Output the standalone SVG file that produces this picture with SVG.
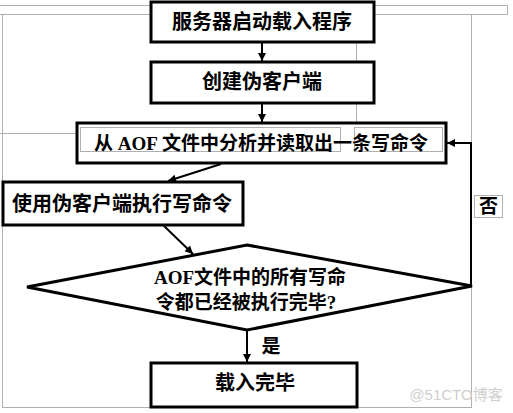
<svg xmlns="http://www.w3.org/2000/svg" width="513" height="413" viewBox="0 0 513 413">
<defs>
<style>
.box{fill:#fff;stroke:#000;stroke-width:3}
.t{font-family:"Liberation Serif","Noto Sans CJK SC",serif;font-weight:bold;fill:#000;text-anchor:middle}
.ln{fill:none;stroke:#000;stroke-width:2}
.g{fill:none;stroke:#b0b0b0;stroke-width:1}
</style>
<marker id="ah" viewBox="0 0 10 10" refX="10" refY="5" markerWidth="9" markerHeight="8" markerUnits="userSpaceOnUse" orient="auto">
<path d="M0,0 L10,5 L0,10 z" fill="#000"/>
</marker>
</defs>
<rect width="513" height="413" fill="#fff"/>
<g id="artifacts">
<rect class="g" x="2.5" y="14.5" width="469" height="393"/>
<path class="g" d="M0,5.5 H507.5 V14.5 H0"/>
<path class="g" d="M356.5,5.5 V130"/>
<path class="g" d="M0,133.5 H80"/>
</g>
<g id="n1"><rect class="box" x="151" y="2" width="223" height="40"/><text class="t" x="262" y="29" font-size="20">服务器启动载入程序</text></g>
<g id="n2"><rect class="box" x="151" y="62" width="223" height="41"/><text class="t" x="262" y="89" font-size="20">创建伪客户端</text></g>
<g id="n3"><rect class="box" x="77" y="123" width="369" height="40"/>
<rect class="g" x="80.5" y="127.5" width="260" height="24"/><rect class="g" x="354.5" y="127.5" width="88" height="24"/>
<text class="t" x="261" y="150" font-size="19">从 AOF 文件中分析并读取出一条写命令</text></g>
<g id="n4"><rect class="box" x="3" y="182" width="240" height="43"/><text class="t" x="122" y="211" font-size="20">使用伪客户端执行写命令</text></g>
<g id="n5"><polygon class="box" points="247,245 472,286 247,330 27,287"/>
<text class="t" x="250" y="284" font-size="19">AOF文件中的所有写命</text>
<text class="t" x="246" y="309" font-size="19">令都已经被执行完毕?</text></g>
<g id="n6"><rect class="box" x="151" y="363" width="206" height="44"/><text class="t" x="255" y="390" font-size="20">载入完毕</text></g>
<g id="connectors">
<line class="ln" x1="262" y1="42" x2="262" y2="61" marker-end="url(#ah)"/>
<line class="ln" x1="262" y1="103" x2="262" y2="122" marker-end="url(#ah)"/>
<line class="ln" x1="221" y1="164" x2="168" y2="181" marker-end="url(#ah)"/>
<line class="ln" x1="163" y1="225" x2="193" y2="254" marker-end="url(#ah)"/>
<line class="ln" x1="247" y1="330" x2="247" y2="362" marker-end="url(#ah)"/>
<polyline class="ln" points="471,286 471,143 447,143" marker-end="url(#ah)"/>
<text class="t" x="271" y="353" font-size="19">是</text>
<rect x="474.5" y="195.5" width="28" height="22" fill="#fff" stroke="#b0b0b0" stroke-width="1"/>
<text class="t" x="488.5" y="213" font-size="19">否</text>
</g>
<text x="456" y="400" font-family="Liberation Sans,'Noto Sans CJK SC',sans-serif" font-size="15" fill="#cfcfcf" text-anchor="middle">@51CTO博客</text>
</svg>
